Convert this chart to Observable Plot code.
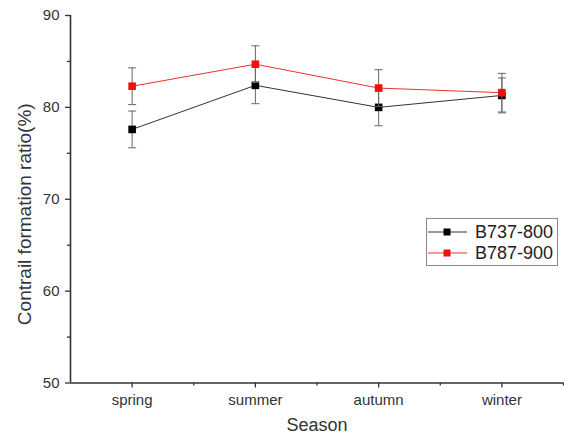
<!DOCTYPE html>
<html><head><meta charset="utf-8">
<script src="https://cdn.jsdelivr.net/npm/d3@7"></script>
<script src="https://cdn.jsdelivr.net/npm/@observablehq/plot@0.6"></script>
<style>body{margin:0;background:#fff}</style>
</head><body><div id="chart"></div>
<script>
const seasons = ["spring", "summer", "autumn", "winter"];
const seriesNames = ["B737-800", "B787-900"];
const b737 = [77.6, 82.4, 80.0, 81.3];
const b737err = [2.0, 2.0, 2.0, 1.9];
const b787 = [82.3, 84.7, 82.1, 81.6];
const b787err = [2.0, 2.0, 2.0, 2.1];
const yMajor = [50, 60, 70, 80, 90];
const yMinor = [55, 65, 75, 85];
const xMajor = [1, 2, 3, 4];
const xMinor = [1.5, 2.5, 3.5, 4.5];

const colors = {"B737-800": "#000", "B787-900": "#f01010"};
const lineColors = {"B737-800": "#333", "B787-900": "#f03030"};

const rows = [];
seasons.forEach((s, i) => {
  rows.push({x: i + 1, season: s, series: seriesNames[0], value: b737[i], err: b737err[i]});
});
seasons.forEach((s, i) => {
  rows.push({x: i + 1, season: s, series: seriesNames[1], value: b787[i], err: b787err[i]});
});
const r737 = rows.filter(d => d.series === seriesNames[0]);
const r787 = rows.filter(d => d.series === seriesNames[1]);

const cap = {draw(ctx) { ctx.moveTo(-4, 0); ctx.lineTo(4, 0); }};
const axisColor = "#333";

function seriesMarks(data, name) {
  return [
    Plot.ruleX(data, {x: "x", y1: d => d.value - d.err, y2: d => d.value + d.err, stroke: "#666", strokeWidth: 1}),
    Plot.dot(data, {x: "x", y: d => d.value + d.err, symbol: cap, stroke: "#666", fill: "none", strokeWidth: 1}),
    Plot.dot(data, {x: "x", y: d => d.value - d.err, symbol: cap, stroke: "#666", fill: "none", strokeWidth: 1}),
    Plot.line(data, {x: "x", y: "value", stroke: lineColors[name], strokeWidth: 1}),
    Plot.dot(data, {x: "x", y: "value", symbol: "square", r: 4.3, fill: colors[name], stroke: "none"})
  ];
}

const chart = Plot.plot({
  width: 564, height: 436,
  marginLeft: 70, marginRight: 1, marginTop: 15, marginBottom: 53.5,
  style: {fontFamily: "'Liberation Sans', Arial, sans-serif", fontSize: "15px", color: axisColor, background: "#fff"},
  x: {domain: [0.5, 4.5], axis: null},
  y: {domain: [50, 90], axis: null},
  marks: [
    Plot.axisY(yMajor, {tickSize: 5, tickPadding: 6, tickFormat: d => String(d), fontSize: 15, stroke: axisColor, strokeWidth: 1.3, label: null}),
    Plot.axisY(yMinor, {tickSize: 3, tickFormat: () => "", stroke: axisColor, strokeWidth: 1.3, label: null}),
    Plot.axisX(xMajor, {tickSize: 5, tickPadding: 6, tickFormat: d => seasons[d - 1], fontSize: 15, stroke: axisColor, strokeWidth: 1.3, label: null}),
    Plot.axisX(xMinor, {tickSize: 3, tickFormat: () => "", stroke: axisColor, strokeWidth: 1.3, label: null}),
    Plot.ruleX([0.5], {y1: 50, y2: 90, stroke: axisColor, strokeWidth: 1.6}),
    Plot.ruleY([50], {x1: 0.5, x2: 4.5, stroke: axisColor, strokeWidth: 1.6}),
    ...seriesMarks(r737, seriesNames[0]),
    ...seriesMarks(r787, seriesNames[1]),
    Plot.text(["Season"], {frameAnchor: "bottom", lineAnchor: "bottom", dy: 48, fontSize: 18, fill: axisColor}),
    Plot.text(["Contrail formation ratio(%)"], {frameAnchor: "left", textAnchor: "middle", rotate: -90, dx: -46, dy: 15, fontSize: 19, fill: axisColor, letterSpacing: "0.7px"})
  ]
});
document.getElementById("chart").appendChild(chart);

// legend
const svg = d3.select(chart);
const lg = svg.append("g").attr("font-family", "'Liberation Sans', Arial, sans-serif").attr("text-anchor", "start");
lg.append("rect").attr("x", 426.5).attr("y", 218.5).attr("width", 131).attr("height", 47)
  .attr("fill", "#fff").attr("stroke", "#888").attr("stroke-width", 1);
seriesNames.forEach((name, i) => {
  const y = 232 + i * 21;
  lg.append("line").attr("x1", 428).attr("x2", 467).attr("y1", y).attr("y2", y)
    .attr("stroke", lineColors[name]).attr("stroke-width", 1);
  lg.append("rect").attr("x", 443.5).attr("y", y - 3.5).attr("width", 7).attr("height", 7).attr("fill", colors[name]);
  lg.append("text").attr("x", 475).attr("y", y).attr("dy", "0.35em").attr("font-size", 18)
    .attr("text-anchor", "start").attr("fill", "#222").text(name);
});
</script>
</body></html>
